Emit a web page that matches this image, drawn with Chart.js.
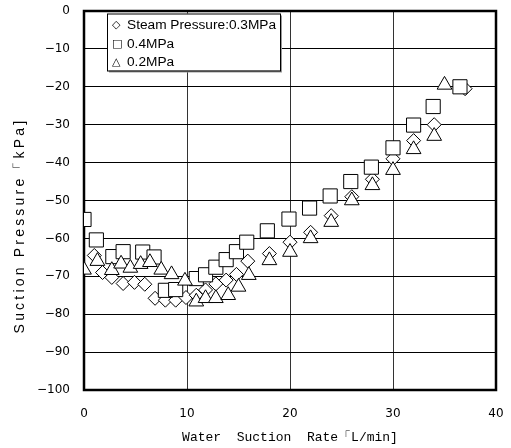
<!DOCTYPE html>
<html>
<head>
<meta charset="utf-8">
<script src="https://cdn.jsdelivr.net/npm/chart.js@4.4.1/dist/chart.umd.min.js"></script>
<style>
	html, body { margin: 0; padding: 0; background: #fff; }
</style>
</head>
<body>
<canvas id="suction-chart" width="511" height="448"></canvas>
<script>
( function () {
	'use strict';

	// ── Data ─────────────────────────────────────────────────────────────

	const SERIES_NAMES   = [ 'Steam Pressure:0.3MPa', '0.4MPa', '0.2MPa' ];
	const SERIES_SYMBOLS = [ '\u25C7', '\u25A1', '\u25B3' ];

	// Steam pressure 0.3 MPa (diamonds)
	const RATE_03 = [ 1.0, 1.8, 2.7, 3.8, 4.9, 5.9, 6.9, 7.9, 8.9, 9.9, 10.9, 11.8, 12.8,
		13.8, 14.8, 15.9, 18, 20, 22, 24, 26, 28, 30, 32, 34, 37 ];
	const PRES_03 = [ -64.5, -69, -70.3, -71.9, -71.6, -72.1, -75.8, -76.3, -76.3, -75.6, -75,
		-73.6, -72, -71, -69.5, -66, -64, -61, -58.4, -54, -49, -44.4, -39, -34.2, -30, -20.5 ];

	// Steam pressure 0.4 MPa (squares)
	const RATE_04 = [ 0, 1.2, 2.8, 3.8, 5.7, 6.8, 7.9, 8.9, 10.9, 11.8, 12.8, 13.8, 14.8,
		15.8, 17.8, 19.9, 21.9, 23.9, 25.9, 27.9, 30, 32, 33.9, 36.5 ];
	const PRES_04 = [ -55, -60.4, -64.8, -63.5, -63.6, -64.9, -73.7, -73.5, -70.6, -69.6,
		-67.6, -65.6, -63.5, -61, -58, -54.9, -52, -48.8, -45, -41.2, -36.1, -30.1, -25.2, -20 ];

	// Steam pressure 0.2 MPa (triangles)
	const RATE_02 = [ 0, 1.3, 2.7, 3.6, 4.5, 5.5, 6.4, 7.5, 8.5, 9.8, 10.9, 11.8, 12.8, 14,
		15, 16, 18, 20, 22, 24, 26, 28, 30, 32, 34, 35 ];
	const PRES_02 = [ -68.3, -66, -68.4, -66.7, -67.8, -66.8, -66.3, -68.3, -69.5, -71.2,
		-76.7, -75.8, -75.8, -75, -72.8, -69.7, -65.8, -63.6, -60, -55.7, -50, -46, -42,
		-36.5, -33, -19.5 ];

	const X_TICKS = [ 0, 10, 20, 30, 40 ];
	const Y_TICKS = [ 0, -10, -20, -30, -40, -50, -60, -70, -80, -90, -100 ];

	const X_TITLE = 'Water  Suction  Rate\u300CL/min]';
	const Y_TITLE = 'Suction Pressure\u300CkPa]';

	// ── Helpers ──────────────────────────────────────────────────────────

	function toPoints( xs, ys ) {
		return xs.map( function ( x, i ) { return { x: x, y: ys[ i ] }; } );
	}

	function minusLabel( v ) {
		return v < 0 ? '\u2212' + Math.abs( v ) : String( v );
	}

	// Black frame around the plot area (Chart.js only borders two sides)
	const framePlugin = {
		id: 'frame',
		beforeDatasetsDraw: function ( chart ) {
			var a = chart.chartArea, ctx = chart.ctx;
			ctx.save();
			ctx.strokeStyle = '#000';
			ctx.lineWidth = 2.5;
			ctx.strokeRect( a.left, a.top, a.right - a.left, a.bottom - a.top );
			ctx.restore();
		},
	};

	// Vertical axis title, letter-spaced like the original
	const yTitlePlugin = {
		id: 'yTitle',
		afterDraw: function ( chart ) {
			var ctx = chart.ctx, a = chart.chartArea;
			ctx.save();
			ctx.translate( 20, ( a.top + a.bottom ) / 2 + 25 );
			ctx.rotate( -Math.PI / 2 );
			ctx.letterSpacing = '3.2px';
			ctx.font = '14px "Liberation Sans", Arial, sans-serif';
			ctx.fillStyle = '#000';
			ctx.textAlign = 'center';
			ctx.textBaseline = 'middle';
			ctx.fillText( Y_TITLE, 0, 0 );
			ctx.restore();
		},
	};

	// Boxed legend inside the plot, with text symbols like the original
	const boxLegendPlugin = {
		id: 'boxLegend',
		afterDraw: function ( chart ) {
			var a = chart.chartArea, ctx = chart.ctx;
			var x = a.left + 23, y = a.top + 2.5, w = 173, h = 57;
			ctx.save();
			ctx.fillStyle = '#999';
			ctx.fillRect( x + 2, y + 2, w, h );
			ctx.fillStyle = '#fff';
			ctx.fillRect( x, y, w, h );
			ctx.strokeStyle = '#000';
			ctx.lineWidth = 1;
			ctx.strokeRect( x + 0.5, y + 0.5, w, h );
			ctx.fillStyle = '#000';
			ctx.textBaseline = 'middle';
			SERIES_NAMES.forEach( function ( name, i ) {
				var ly = y + 12 + i * 18.3;
				ctx.font = '11px "DejaVu Sans", sans-serif';
				ctx.fillText( SERIES_SYMBOLS[ i ], x + 5, ly );
				ctx.font = '13.7px "Liberation Sans", Arial, sans-serif';
				ctx.fillText( name, x + 20, ly );
			} );
			ctx.restore();
		},
	};

	// ── Chart ────────────────────────────────────────────────────────────

	function markerSet( label, xs, ys, style, radius, order ) {
		return {
			label: label,
			data: toPoints( xs, ys ),
			pointStyle: style,
			pointRadius: radius,
			pointHoverRadius: radius,
			pointBackgroundColor: '#fff',
			pointBorderColor: '#000',
			pointBorderWidth: 1,
			showLine: false,
			order: order,
		};
	}

	var tickFont = { family: '"DejaVu Sans", sans-serif', size: 12 };

	new Chart( document.getElementById( 'suction-chart' ), {
		type: 'scatter',
		data: {
			datasets: [
				markerSet( SERIES_NAMES[ 0 ], RATE_03, PRES_03, 'rectRot', 7, 2 ),
				markerSet( SERIES_NAMES[ 1 ], RATE_04, PRES_04, 'rect', 10, 1 ),
				markerSet( SERIES_NAMES[ 2 ], RATE_02, PRES_02, 'triangle', 8.5, 0 ),
			],
		},
		options: {
			responsive: false,
			animation: false,
			layout: { padding: { top: 11, right: 15, left: 0, bottom: 0 } },
			plugins: {
				legend: { display: false },
				tooltip: { enabled: false },
			},
			scales: {
				x: {
					type: 'linear',
					min: 0,
					max: 40,
					afterFit: function ( s ) {
						s.height = 58;
						s.paddingLeft = 0;
						s.paddingRight = 0;
					},
					afterBuildTicks: function ( s ) {
						s.ticks = X_TICKS.map( function ( v ) { return { value: v }; } );
					},
					ticks: { color: '#000', padding: 17, font: tickFont },
					grid: { color: '#333', lineWidth: 1, drawTicks: false },
					border: { display: false },
					title: {
						display: true,
						text: X_TITLE,
						color: '#000',
						padding: { top: 0, bottom: 3 },
						font: { family: '"Liberation Mono", monospace', size: 13 },
					},
				},
				y: {
					type: 'linear',
					min: -100,
					max: 0,
					afterFit: function ( s ) {
						s.width = 84;
						s.paddingTop = 0;
						s.paddingBottom = 0;
					},
					afterBuildTicks: function ( s ) {
						s.ticks = Y_TICKS.map( function ( v ) { return { value: v }; } );
					},
					ticks: { color: '#000', padding: 14, callback: minusLabel, font: tickFont },
					grid: { color: '#000', lineWidth: 1, drawTicks: false },
					border: { display: false },
					title: { display: false },
				},
			},
		},
		plugins: [ framePlugin, yTitlePlugin, boxLegendPlugin ],
	} );
} )();
</script>
</body>
</html>
